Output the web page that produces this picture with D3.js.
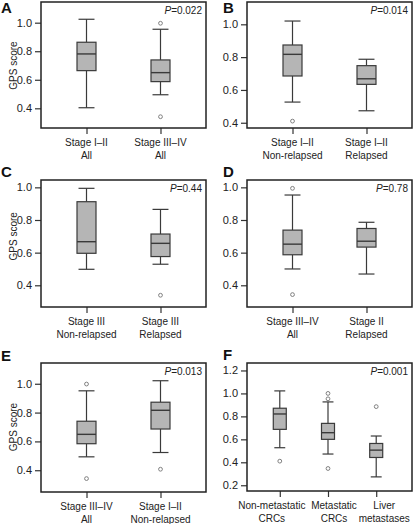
<!DOCTYPE html>
<html><head><meta charset="utf-8">
<script src="https://cdn.jsdelivr.net/npm/d3@7"></script>
<style>
html,body{margin:0;padding:0;background:#fff;}
svg{display:block;font-family:"Liberation Sans",Arial,Helvetica,sans-serif;}
</style></head>
<body>
<svg id="chart" width="414" height="524"></svg>
<script>
// ---- data ----
const panelLetters = ["A", "B", "C", "D", "E", "F"];
const pValues = ["0.022", "0.014", "0.44", "0.78", "0.013", "0.001"];

const categoriesA = [["Stage I–II", "All"], ["Stage III–IV", "All"]];
const categoriesB = [["Stage I–II", "Non-relapsed"], ["Stage I–II", "Relapsed"]];
const categoriesC = [["Stage III", "Non-relapsed"], ["Stage III", "Relapsed"]];
const categoriesD = [["Stage III–IV", "All"], ["Stage II", "Relapsed"]];
const categoriesE = [["Stage III–IV", "All"], ["Stage I–II", "Non-relapsed"]];
const categoriesF = [["Non-metastatic", "CRCs"], ["Metastatic", "CRCs"], ["Liver", "metastases"]];

// [whisker low, Q1, median, Q3, whisker high]
const statsA = [[0.404, 0.664, 0.781, 0.863, 1.024], [0.495, 0.587, 0.650, 0.739, 0.954]];
const statsB = [[0.526, 0.685, 0.817, 0.874, 1.020], [0.473, 0.634, 0.668, 0.748, 0.787]];
const statsC = [[0.498, 0.596, 0.667, 0.912, 0.994], [0.529, 0.576, 0.657, 0.714, 0.865]];
const statsD = [[0.500, 0.587, 0.652, 0.738, 0.953], [0.469, 0.634, 0.670, 0.748, 0.786]];
const statsE = [[0.493, 0.584, 0.649, 0.740, 0.951], [0.523, 0.686, 0.816, 0.872, 1.021]];
const statsF = [[0.527, 0.687, 0.821, 0.871, 1.022], [0.472, 0.600, 0.658, 0.739, 0.926], [0.273, 0.442, 0.506, 0.564, 0.629]];

const outliersA = [[], [0.996, 0.341]];
const outliersB = [[0.410], []];
const outliersC = [[], [0.339]];
const outliersD = [[0.994, 0.343], []];
const outliersE = [[0.998, 0.342], [0.407]];
const outliersF = [[0.410], [1.000, 0.953, 0.346], [0.885]];

const yTicksStd = [0.4, 0.6, 0.8, 1.0];
const yTicksF = [0.2, 0.4, 0.6, 0.8, 1.0, 1.2];
const yDomainA = [0.262, 1.145];
const yDomainB = [0.368, 1.136];
const yDomainCD = [0.267, 1.045];
const yDomainE = [0.249, 1.144];
const yDomainF = [0.150, 1.265];
const yLabel = "GPS score";

// ---- layout ----
const panels = [
  {cats: categoriesA, stats: statsA, outs: outliersA, dom: yDomainA, ticks: yTicksStd, x0: 41, x1: 206, y0: 2, y1: 128, ylab: true, bw: 19, pad: 0.615, lx: 1, ly: 13},
  {cats: categoriesB, stats: statsB, outs: outliersB, dom: yDomainB, ticks: yTicksStd, x0: 247, x1: 412, y0: 2, y1: 128, ylab: false, bw: 19, pad: 0.615, lx: 223, ly: 13},
  {cats: categoriesC, stats: statsC, outs: outliersC, dom: yDomainCD, ticks: yTicksStd, x0: 41, x1: 206, y0: 180, y1: 307, ylab: true, bw: 19, pad: 0.615, lx: 1, ly: 177},
  {cats: categoriesD, stats: statsD, outs: outliersD, dom: yDomainCD, ticks: yTicksStd, x0: 247, x1: 412, y0: 180, y1: 307, ylab: false, bw: 19, pad: 0.615, lx: 223, ly: 177},
  {cats: categoriesE, stats: statsE, outs: outliersE, dom: yDomainE, ticks: yTicksStd, x0: 41, x1: 206, y0: 363, y1: 492, ylab: true, bw: 19, pad: 0.615, lx: 1, ly: 361},
  {cats: categoriesF, stats: statsF, outs: outliersF, dom: yDomainF, ticks: yTicksF, x0: 247, x1: 409, y0: 363, y1: 491, ylab: false, bw: 13, pad: 0.68, lx: 223, ly: 360, frameRight: 412, labelShift: [-8, 6, 8]}
];

const svg = d3.select("#chart");
const lineCol = "#3a3a3a";
const boxFill = "#b5b5b5";

panels.forEach((p, i) => {
  const g = svg.append("g");
  const x = d3.scalePoint().domain(p.cats.map((c, j) => j)).range([p.x0, p.x1]).padding(p.pad);
  const y = d3.scaleLinear().domain(p.dom).range([p.y1, p.y0]);
  const fr = p.frameRight || p.x1;

  // y axis
  const ya = g.append("g").attr("transform", `translate(${p.x0},0)`)
    .call(d3.axisLeft(y).tickValues(p.ticks).tickFormat(d3.format(".1f")).tickSize(6).tickPadding(3));
  ya.select(".domain").remove();
  ya.selectAll("line").attr("stroke", "#333").attr("stroke-width", 1.2);
  ya.selectAll("text").attr("font-size", 11).attr("fill", "#222").attr("font-family", "Liberation Sans, Arial, sans-serif");

  // x axis ticks
  const xa = g.append("g").attr("transform", `translate(0,${p.y1})`)
    .call(d3.axisBottom(x).tickSize(6).tickFormat(""));
  xa.select(".domain").remove();
  xa.selectAll("line").attr("stroke", "#333").attr("stroke-width", 1.2);

  // category labels
  p.cats.forEach((c, j) => {
    const lx = x(j) + (p.labelShift ? p.labelShift[j] : 0);
    const t = g.append("text").attr("x", lx).attr("text-anchor", "middle")
      .attr("font-size", 10).attr("fill", "#222");
    c.forEach((line, k) => {
      t.append("tspan").attr("x", lx).attr("y", p.y1 + 18 + k * 13).text(line);
    });
  });

  // boxes
  const hw = p.bw / 2, cw = p.bw * 0.42;
  p.stats.forEach((s, j) => {
    const cx = x(j);
    const [lo, q1, md, q3, hi] = s;
    g.append("line").attr("x1", cx).attr("x2", cx).attr("y1", y(hi)).attr("y2", y(q3)).attr("stroke", lineCol).attr("stroke-width", 1.2);
    g.append("line").attr("x1", cx).attr("x2", cx).attr("y1", y(q1)).attr("y2", y(lo)).attr("stroke", lineCol).attr("stroke-width", 1.2);
    g.append("line").attr("x1", cx - cw).attr("x2", cx + cw).attr("y1", y(hi)).attr("y2", y(hi)).attr("stroke", lineCol).attr("stroke-width", 1.2);
    g.append("line").attr("x1", cx - cw).attr("x2", cx + cw).attr("y1", y(lo)).attr("y2", y(lo)).attr("stroke", lineCol).attr("stroke-width", 1.2);
    g.append("rect").attr("x", cx - hw).attr("y", y(q3)).attr("width", p.bw).attr("height", y(q1) - y(q3))
      .attr("fill", boxFill).attr("stroke", lineCol).attr("stroke-width", 1.2);
    g.append("line").attr("x1", cx - hw).attr("x2", cx + hw).attr("y1", y(md)).attr("y2", y(md)).attr("stroke", lineCol).attr("stroke-width", 1.4);
    p.outs[j].forEach(o => {
      g.append("circle").attr("cx", cx).attr("cy", y(o)).attr("r", 1.9)
        .attr("fill", "none").attr("stroke", "#808080").attr("stroke-width", 1);
    });
  });

  // frame
  g.append("rect").attr("x", p.x0).attr("y", p.y0).attr("width", fr - p.x0).attr("height", p.y1 - p.y0)
    .attr("fill", "none").attr("stroke", "#222").attr("stroke-width", 1.5);

  // p value
  const pt = g.append("text").attr("x", fr - 4).attr("y", p.y0 + 12).attr("text-anchor", "end")
    .attr("font-size", 10).attr("fill", "#222");
  pt.append("tspan").attr("font-style", "italic").text("P");
  pt.append("tspan").text("=" + pValues[i]);

  // y label
  if (p.ylab) {
    const cy = (y(p.ticks[0]) + y(p.ticks[p.ticks.length - 1])) / 2;
    g.append("text").attr("transform", `translate(13,${cy}) rotate(-90)`)
      .attr("text-anchor", "middle").attr("dominant-baseline", "central")
      .attr("font-size", 10).attr("fill", "#222").text(yLabel);
  }

  // panel letter
  g.append("text").attr("x", p.lx).attr("y", p.ly).attr("font-size", 15).attr("font-weight", "bold")
    .attr("fill", "#111").text(panelLetters[i]);
});
</script>
</body></html>
